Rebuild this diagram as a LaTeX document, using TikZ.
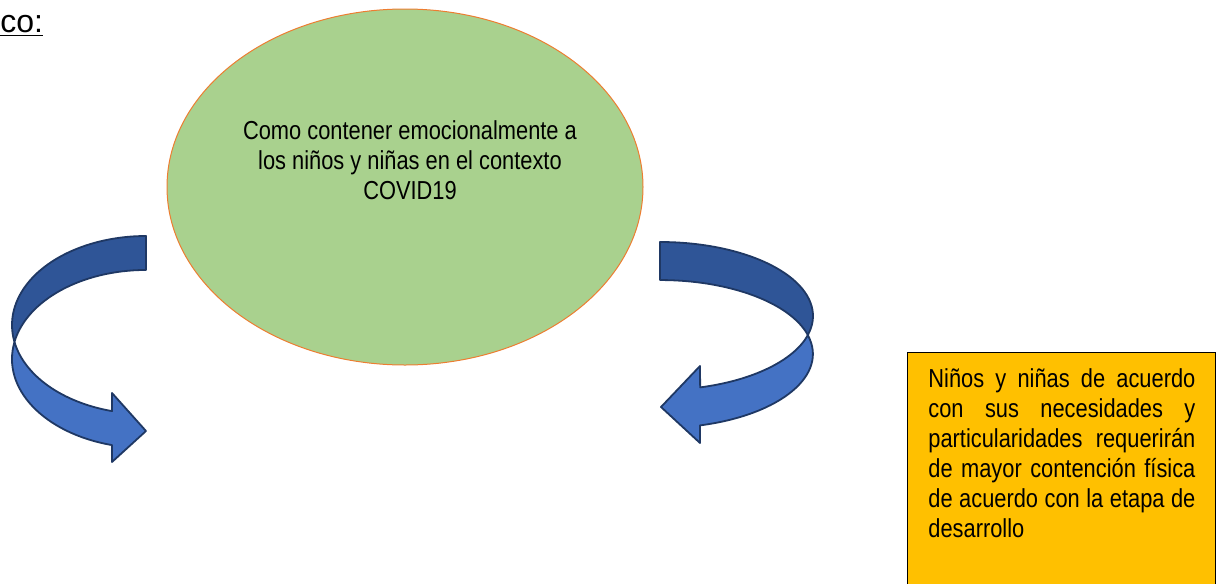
\documentclass[tikz,border=0pt]{standalone}
\usepackage{fontspec}
\setmainfont{Liberation Sans}
\newfontfamily\narrowfont[FakeStretch=0.84]{Liberation Sans}
\usetikzlibrary{shapes.geometric}
\definecolor{leafgreen}{HTML}{A9D18E}
\definecolor{rimorange}{HTML}{ED7D31}
\definecolor{boxgold}{HTML}{FFC000}
\definecolor{backblue}{HTML}{2F5597}
\definecolor{frontblue}{HTML}{4472C4}
\definecolor{edgenavy}{HTML}{1F3864}

\begin{document}
\begin{tikzpicture}[x=0.5pt,y=-0.5pt,
	bubble/.style={ellipse,draw=rimorange,line width=0.5pt,fill=leafgreen,inner sep=0pt,minimum width=238pt,minimum height=178pt},
	note/.style={font=\narrowfont\fontsize{13}{15}\selectfont,inner sep=0pt},
	goldbox/.style={draw=black,line width=0.5pt,fill=boxgold,inner sep=0pt,minimum width=154pt,minimum height=130pt,anchor=north west},
	backband/.style={fill=backblue,draw=edgenavy,line width=0.9pt,line join=round},
	frontband/.style={fill=frontblue,draw=edgenavy,line width=0.9pt,line join=round}]
	\useasboundingbox (0,0) rectangle (1222,584);
	\node[anchor=base west,inner sep=0pt,font=\fontsize{16}{19}\selectfont] (heading) at (0,32) {\underline{co:}};
	\node[bubble] (topic) at (405,187) {};
	\node[note,align=center] (question) at (410,160) {Como contener emocionalmente a\\los niños y niñas en el contexto\\COVID19};
	% left curved arrow
	\coordinate (lcross) at (14.5,342);
	\draw[backband] (146,236) arc[start angle=270,end angle=169,x radius=134,y radius=89]
		arc[start angle=191,end angle=270,x radius=134,y radius=89] -- cycle;
	\draw[frontband] (lcross) arc[start angle=169,end angle=104.7,x radius=134,y radius=89]
		-- (112,393) -- (146,431) -- (112,462) -- (112,445.1)
		arc[start angle=104.7,end angle=191,x radius=134,y radius=89] -- cycle;
	% right curved arrow
	\coordinate (rcross) at (807.9,335);
	\draw[backband] (660,242) arc[start angle=270,end angle=374.9,x radius=153,y radius=74]
		arc[start angle=345.1,end angle=270,x radius=153,y radius=74] -- cycle;
	\draw[frontband] (rcross) arc[start angle=14.9,end angle=74.8,x radius=153,y radius=74]
		-- (700,366) -- (661,407) -- (700,443) -- (700,425.4)
		arc[start angle=74.8,end angle=-14.9,x radius=153,y radius=74] -- cycle;
	\node[goldbox] (needsbox) at (907,352) {};
	\node[note,text width=133.5pt,align=justify,anchor=north west] (needs) at (928,368) {Niños y niñas de acuerdo\linebreak con sus necesidades y\linebreak particularidades requerirán\linebreak de mayor contención física\linebreak de acuerdo con la etapa de\linebreak desarrollo};
\end{tikzpicture}
\end{document}
